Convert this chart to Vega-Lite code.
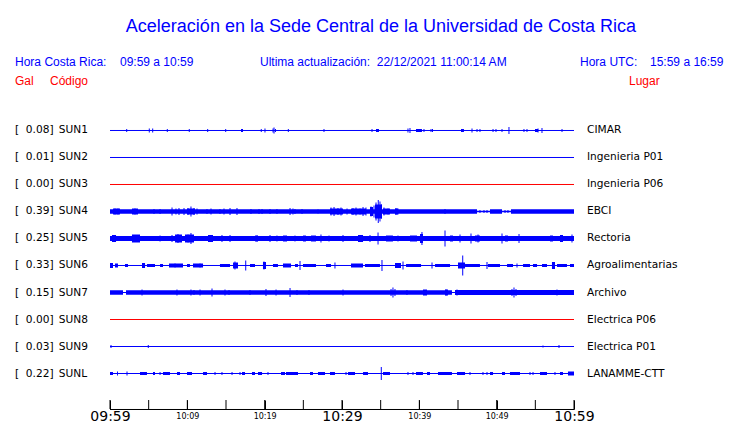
{
  "$schema": "https://vega.github.io/schema/vega-lite/v6.json",
  "width": 464,
  "height": 409,
  "autosize": {"type": "none"},
  "padding": {"left": 110, "right": 166, "top": 0, "bottom": 14},
  "background": "white",
  "config": {"view": {"stroke": null}, "axis": {"grid": false}},
  "datasets": {
    "estaciones": [
      {"codigo": "SUN1", "gal": 0.08, "lugar": "CIMAR", "orden": 1},
      {"codigo": "SUN2", "gal": 0.01, "lugar": "Ingenieria P01", "orden": 2},
      {"codigo": "SUN3", "gal": 0.00, "lugar": "Ingenieria P06", "orden": 3},
      {"codigo": "SUN4", "gal": 0.39, "lugar": "EBCI", "orden": 4},
      {"codigo": "SUN5", "gal": 0.25, "lugar": "Rectoria", "orden": 5},
      {"codigo": "SUN6", "gal": 0.33, "lugar": "Agroalimentarias", "orden": 6},
      {"codigo": "SUN7", "gal": 0.15, "lugar": "Archivo", "orden": 7},
      {"codigo": "SUN8", "gal": 0.00, "lugar": "Electrica P06", "orden": 8},
      {"codigo": "SUN9", "gal": 0.03, "lugar": "Electrica P01", "orden": 9},
      {"codigo": "SUNL", "gal": 0.22, "lugar": "LANAMME-CTT", "orden": 10}
    ],
    "marcas": [
      {"minuto": 0}, {"minuto": 5}, {"minuto": 10}, {"minuto": 15}, {"minuto": 20}, {"minuto": 25}, {"minuto": 30},
      {"minuto": 35}, {"minuto": 40}, {"minuto": 45}, {"minuto": 50}, {"minuto": 55}, {"minuto": 60}
    ],
    "bandas": [
      {"s": "SUN1", "t0": 16.94, "t1": 17.20, "a": 3},
      {"s": "SUN1", "t0": 34.40, "t1": 34.78, "a": 3},
      {"s": "SUN1", "t0": 39.57, "t1": 40.34, "a": 3},
      {"s": "SUN1", "t0": 45.39, "t1": 45.77, "a": 3},
      {"s": "SUN1", "t0": 54.96, "t1": 55.35, "a": 3},
      {"s": "SUN4", "t0": 0, "t1": 47.46, "a": 4.5},
      {"s": "SUN4", "t0": 47.46, "t1": 49.14, "a": 1.5},
      {"s": "SUN4", "t0": 49.14, "t1": 50.69, "a": 4.5},
      {"s": "SUN4", "t0": 50.69, "t1": 51.85, "a": 1.5},
      {"s": "SUN4", "t0": 51.85, "t1": 60, "a": 4.5},
      {"s": "SUN4", "t0": 0.39, "t1": 1.29, "a": 6},
      {"s": "SUN4", "t0": 2.84, "t1": 3.62, "a": 6},
      {"s": "SUN4", "t0": 9.96, "t1": 10.99, "a": 6},
      {"s": "SUN4", "t0": 28.45, "t1": 30.13, "a": 6},
      {"s": "SUN4", "t0": 31.16, "t1": 33.10, "a": 6},
      {"s": "SUN4", "t0": 33.62, "t1": 34.01, "a": 9},
      {"s": "SUN4", "t0": 34.27, "t1": 35.17, "a": 14},
      {"s": "SUN4", "t0": 35.30, "t1": 36.21, "a": 6},
      {"s": "SUN4", "t0": 36.85, "t1": 37.24, "a": 6},
      {"s": "SUN5", "t0": 0, "t1": 60, "a": 5},
      {"s": "SUN5", "t0": 0.26, "t1": 0.78, "a": 7},
      {"s": "SUN5", "t0": 2.84, "t1": 3.88, "a": 8},
      {"s": "SUN5", "t0": 8.41, "t1": 9.31, "a": 8},
      {"s": "SUN5", "t0": 9.70, "t1": 10.86, "a": 8},
      {"s": "SUN5", "t0": 12.67, "t1": 13.32, "a": 7},
      {"s": "SUN5", "t0": 18.75, "t1": 19.14, "a": 6},
      {"s": "SUN5", "t0": 22.37, "t1": 22.89, "a": 6},
      {"s": "SUN5", "t0": 24.96, "t1": 25.34, "a": 6},
      {"s": "SUN5", "t0": 25.99, "t1": 26.64, "a": 6},
      {"s": "SUN5", "t0": 32.07, "t1": 32.72, "a": 7},
      {"s": "SUN5", "t0": 35.69, "t1": 36.59, "a": 6},
      {"s": "SUN5", "t0": 38.79, "t1": 39.70, "a": 6},
      {"s": "SUN5", "t0": 40.09, "t1": 40.47, "a": 9},
      {"s": "SUN5", "t0": 43.97, "t1": 44.35, "a": 6},
      {"s": "SUN5", "t0": 47.20, "t1": 47.84, "a": 6},
      {"s": "SUN5", "t0": 51.08, "t1": 51.46, "a": 6},
      {"s": "SUN5", "t0": 56.90, "t1": 57.28, "a": 6},
      {"s": "SUN5", "t0": 58.19, "t1": 58.58, "a": 7},
      {"s": "SUN6", "t0": 0, "t1": 0.39, "a": 5},
      {"s": "SUN6", "t0": 0.65, "t1": 1.03, "a": 4},
      {"s": "SUN6", "t0": 1.94, "t1": 2.33, "a": 3},
      {"s": "SUN6", "t0": 4.14, "t1": 4.53, "a": 5},
      {"s": "SUN6", "t0": 4.78, "t1": 5.82, "a": 3},
      {"s": "SUN6", "t0": 6.47, "t1": 6.85, "a": 3},
      {"s": "SUN6", "t0": 7.63, "t1": 9.44, "a": 4},
      {"s": "SUN6", "t0": 9.96, "t1": 10.34, "a": 3},
      {"s": "SUN6", "t0": 10.73, "t1": 12.03, "a": 4},
      {"s": "SUN6", "t0": 14.22, "t1": 15.52, "a": 3},
      {"s": "SUN6", "t0": 15.91, "t1": 16.55, "a": 6},
      {"s": "SUN6", "t0": 18.10, "t1": 18.75, "a": 3},
      {"s": "SUN6", "t0": 19.78, "t1": 20.17, "a": 7},
      {"s": "SUN6", "t0": 21.08, "t1": 21.72, "a": 3},
      {"s": "SUN6", "t0": 22.37, "t1": 23.41, "a": 4},
      {"s": "SUN6", "t0": 23.92, "t1": 24.31, "a": 3},
      {"s": "SUN6", "t0": 24.96, "t1": 26.64, "a": 3},
      {"s": "SUN6", "t0": 27.93, "t1": 28.58, "a": 3},
      {"s": "SUN6", "t0": 31.16, "t1": 32.72, "a": 4},
      {"s": "SUN6", "t0": 32.97, "t1": 34.91, "a": 3},
      {"s": "SUN6", "t0": 36.85, "t1": 37.63, "a": 5},
      {"s": "SUN6", "t0": 38.28, "t1": 40.22, "a": 3},
      {"s": "SUN6", "t0": 42.03, "t1": 43.97, "a": 3},
      {"s": "SUN6", "t0": 45.00, "t1": 45.91, "a": 6},
      {"s": "SUN6", "t0": 45.91, "t1": 47.84, "a": 3},
      {"s": "SUN6", "t0": 48.88, "t1": 50.43, "a": 3},
      {"s": "SUN6", "t0": 51.34, "t1": 52.11, "a": 3},
      {"s": "SUN6", "t0": 53.41, "t1": 54.31, "a": 3},
      {"s": "SUN6", "t0": 54.70, "t1": 55.22, "a": 3},
      {"s": "SUN6", "t0": 55.86, "t1": 56.51, "a": 3},
      {"s": "SUN6", "t0": 57.15, "t1": 57.54, "a": 7},
      {"s": "SUN6", "t0": 57.80, "t1": 59.09, "a": 3},
      {"s": "SUN6", "t0": 59.48, "t1": 60, "a": 3},
      {"s": "SUN7", "t0": 0, "t1": 1.68, "a": 4.5},
      {"s": "SUN7", "t0": 2.07, "t1": 44.22, "a": 4.5},
      {"s": "SUN7", "t0": 44.61, "t1": 60, "a": 5},
      {"s": "SUN7", "t0": 40.47, "t1": 40.99, "a": 6},
      {"s": "SUN7", "t0": 43.32, "t1": 43.71, "a": 6},
      {"s": "SUNL", "t0": 0, "t1": 0.39, "a": 3},
      {"s": "SUNL", "t0": 0.91, "t1": 1.03, "a": 4},
      {"s": "SUNL", "t0": 3.88, "t1": 4.78, "a": 3},
      {"s": "SUNL", "t0": 5.56, "t1": 5.82, "a": 3},
      {"s": "SUNL", "t0": 6.85, "t1": 7.76, "a": 3},
      {"s": "SUNL", "t0": 8.66, "t1": 9.05, "a": 3},
      {"s": "SUNL", "t0": 9.96, "t1": 10.60, "a": 3},
      {"s": "SUNL", "t0": 12.03, "t1": 12.54, "a": 3},
      {"s": "SUNL", "t0": 17.07, "t1": 17.46, "a": 3},
      {"s": "SUNL", "t0": 18.36, "t1": 18.75, "a": 3},
      {"s": "SUNL", "t0": 19.14, "t1": 19.66, "a": 3},
      {"s": "SUNL", "t0": 22.11, "t1": 22.63, "a": 3},
      {"s": "SUNL", "t0": 22.76, "t1": 24.31, "a": 3},
      {"s": "SUNL", "t0": 25.86, "t1": 26.25, "a": 3},
      {"s": "SUNL", "t0": 26.90, "t1": 27.80, "a": 3},
      {"s": "SUNL", "t0": 28.45, "t1": 29.09, "a": 3},
      {"s": "SUNL", "t0": 30.78, "t1": 31.68, "a": 3},
      {"s": "SUNL", "t0": 32.72, "t1": 33.36, "a": 3},
      {"s": "SUNL", "t0": 35.30, "t1": 36.21, "a": 3},
      {"s": "SUNL", "t0": 39.57, "t1": 40.47, "a": 3},
      {"s": "SUNL", "t0": 40.99, "t1": 41.38, "a": 3},
      {"s": "SUNL", "t0": 42.41, "t1": 44.22, "a": 3},
      {"s": "SUNL", "t0": 44.87, "t1": 45.91, "a": 3},
      {"s": "SUNL", "t0": 49.14, "t1": 49.53, "a": 3},
      {"s": "SUNL", "t0": 50.69, "t1": 51.08, "a": 3},
      {"s": "SUNL", "t0": 51.72, "t1": 53.02, "a": 3},
      {"s": "SUNL", "t0": 55.60, "t1": 56.51, "a": 3},
      {"s": "SUNL", "t0": 58.19, "t1": 58.58, "a": 3},
      {"s": "SUNL", "t0": 59.22, "t1": 60, "a": 4}
    ],
    "picos": [
      {"s": "SUN1", "t": 2.16, "a": 3}, {"s": "SUN1", "t": 5.08, "a": 4}, {"s": "SUN1", "t": 5.52, "a": 4},
      {"s": "SUN1", "t": 7.41, "a": 3}, {"s": "SUN1", "t": 10.25, "a": 3}, {"s": "SUN1", "t": 12.63, "a": 3},
      {"s": "SUN1", "t": 14.96, "a": 3}, {"s": "SUN1", "t": 19.56, "a": 3}, {"s": "SUN1", "t": 20.04, "a": 4},
      {"s": "SUN1", "t": 21.08, "a": 4}, {"s": "SUN1", "t": 21.21, "a": 6}, {"s": "SUN1", "t": 21.40, "a": 3},
      {"s": "SUN1", "t": 23.06, "a": 3}, {"s": "SUN1", "t": 27.67, "a": 3}, {"s": "SUN1", "t": 33.88, "a": 3},
      {"s": "SUN1", "t": 38.53, "a": 4}, {"s": "SUN1", "t": 38.79, "a": 5}, {"s": "SUN1", "t": 40.60, "a": 3},
      {"s": "SUN1", "t": 41.51, "a": 3}, {"s": "SUN1", "t": 41.70, "a": 3}, {"s": "SUN1", "t": 46.81, "a": 4},
      {"s": "SUN1", "t": 47.46, "a": 3}, {"s": "SUN1", "t": 47.84, "a": 3}, {"s": "SUN1", "t": 49.53, "a": 3},
      {"s": "SUN1", "t": 49.91, "a": 3}, {"s": "SUN1", "t": 50.69, "a": 3}, {"s": "SUN1", "t": 51.59, "a": 7},
      {"s": "SUN1", "t": 53.53, "a": 3}, {"s": "SUN1", "t": 53.92, "a": 3}, {"s": "SUN1", "t": 55.35, "a": 4},
      {"s": "SUN1", "t": 55.86, "a": 5}, {"s": "SUN1", "t": 58.45, "a": 3},
      {"s": "SUN4", "t": 0.65, "a": 6}, {"s": "SUN4", "t": 1.03, "a": 6}, {"s": "SUN4", "t": 3.23, "a": 6},
      {"s": "SUN4", "t": 5.69, "a": 5}, {"s": "SUN4", "t": 6.47, "a": 5}, {"s": "SUN4", "t": 8.02, "a": 8},
      {"s": "SUN4", "t": 8.53, "a": 6}, {"s": "SUN4", "t": 8.92, "a": 7}, {"s": "SUN4", "t": 9.57, "a": 7},
      {"s": "SUN4", "t": 10.09, "a": 7}, {"s": "SUN4", "t": 10.47, "a": 10}, {"s": "SUN4", "t": 10.86, "a": 7},
      {"s": "SUN4", "t": 11.25, "a": 6}, {"s": "SUN4", "t": 12.54, "a": 5}, {"s": "SUN4", "t": 13.06, "a": 6},
      {"s": "SUN4", "t": 14.22, "a": 5}, {"s": "SUN4", "t": 14.74, "a": 6}, {"s": "SUN4", "t": 15.52, "a": 7},
      {"s": "SUN4", "t": 16.42, "a": 7}, {"s": "SUN4", "t": 18.23, "a": 5}, {"s": "SUN4", "t": 19.27, "a": 5},
      {"s": "SUN4", "t": 19.66, "a": 5}, {"s": "SUN4", "t": 20.69, "a": 5}, {"s": "SUN4", "t": 21.59, "a": 5},
      {"s": "SUN4", "t": 23.28, "a": 7}, {"s": "SUN4", "t": 23.66, "a": 6}, {"s": "SUN4", "t": 23.92, "a": 5},
      {"s": "SUN4", "t": 24.83, "a": 5}, {"s": "SUN4", "t": 26.90, "a": 4}, {"s": "SUN4", "t": 28.58, "a": 8},
      {"s": "SUN4", "t": 28.97, "a": 9}, {"s": "SUN4", "t": 29.48, "a": 7}, {"s": "SUN4", "t": 29.87, "a": 8},
      {"s": "SUN4", "t": 30.65, "a": 6}, {"s": "SUN4", "t": 31.42, "a": 7}, {"s": "SUN4", "t": 31.81, "a": 8},
      {"s": "SUN4", "t": 32.33, "a": 6}, {"s": "SUN4", "t": 32.72, "a": 9}, {"s": "SUN4", "t": 33.10, "a": 8},
      {"s": "SUN4", "t": 33.75, "a": 10}, {"s": "SUN4", "t": 34.14, "a": 12}, {"s": "SUN4", "t": 34.40, "a": 18},
      {"s": "SUN4", "t": 34.69, "a": 23}, {"s": "SUN4", "t": 34.91, "a": 20}, {"s": "SUN4", "t": 35.11, "a": 14},
      {"s": "SUN4", "t": 35.43, "a": 8}, {"s": "SUN4", "t": 35.95, "a": 6}, {"s": "SUN4", "t": 36.98, "a": 7},
      {"s": "SUN4", "t": 37.24, "a": 6}, {"s": "SUN4", "t": 43.32, "a": 5}, {"s": "SUN4", "t": 47.84, "a": 3},
      {"s": "SUN4", "t": 48.36, "a": 3}, {"s": "SUN4", "t": 48.75, "a": 3}, {"s": "SUN4", "t": 51.08, "a": 3},
      {"s": "SUN4", "t": 51.46, "a": 3},
      {"s": "SUN5", "t": 6.47, "a": 6}, {"s": "SUN5", "t": 8.02, "a": 7}, {"s": "SUN5", "t": 8.79, "a": 9},
      {"s": "SUN5", "t": 10.09, "a": 8}, {"s": "SUN5", "t": 10.47, "a": 11}, {"s": "SUN5", "t": 14.48, "a": 7},
      {"s": "SUN5", "t": 15.52, "a": 7}, {"s": "SUN5", "t": 19.01, "a": 6}, {"s": "SUN5", "t": 20.69, "a": 7},
      {"s": "SUN5", "t": 21.59, "a": 6}, {"s": "SUN5", "t": 23.92, "a": 6}, {"s": "SUN5", "t": 27.28, "a": 8},
      {"s": "SUN5", "t": 28.32, "a": 6}, {"s": "SUN5", "t": 30.13, "a": 7}, {"s": "SUN5", "t": 33.62, "a": 7},
      {"s": "SUN5", "t": 34.66, "a": 12}, {"s": "SUN5", "t": 37.24, "a": 6}, {"s": "SUN5", "t": 40.34, "a": 13},
      {"s": "SUN5", "t": 43.32, "a": 16}, {"s": "SUN5", "t": 45.26, "a": 8}, {"s": "SUN5", "t": 46.68, "a": 10},
      {"s": "SUN5", "t": 47.59, "a": 8}, {"s": "SUN5", "t": 50.69, "a": 10}, {"s": "SUN5", "t": 52.89, "a": 9},
      {"s": "SUN5", "t": 59.74, "a": 8},
      {"s": "SUN6", "t": 8.41, "a": 4}, {"s": "SUN6", "t": 11.64, "a": 4}, {"s": "SUN6", "t": 16.16, "a": 8},
      {"s": "SUN6", "t": 17.55, "a": 10}, {"s": "SUN6", "t": 19.91, "a": 8}, {"s": "SUN6", "t": 24.57, "a": 9},
      {"s": "SUN6", "t": 29.09, "a": 6}, {"s": "SUN6", "t": 35.17, "a": 11}, {"s": "SUN6", "t": 37.89, "a": 8},
      {"s": "SUN6", "t": 41.64, "a": 6}, {"s": "SUN6", "t": 45.61, "a": 20}, {"s": "SUN6", "t": 48.75, "a": 7},
      {"s": "SUN6", "t": 52.63, "a": 4},
      {"s": "SUN7", "t": 4.14, "a": 6}, {"s": "SUN7", "t": 8.66, "a": 6}, {"s": "SUN7", "t": 10.47, "a": 6},
      {"s": "SUN7", "t": 10.86, "a": 5}, {"s": "SUN7", "t": 11.64, "a": 6}, {"s": "SUN7", "t": 13.19, "a": 8},
      {"s": "SUN7", "t": 14.87, "a": 6}, {"s": "SUN7", "t": 15.39, "a": 5}, {"s": "SUN7", "t": 18.10, "a": 5},
      {"s": "SUN7", "t": 20.17, "a": 7}, {"s": "SUN7", "t": 21.47, "a": 6}, {"s": "SUN7", "t": 23.28, "a": 9},
      {"s": "SUN7", "t": 24.18, "a": 5}, {"s": "SUN7", "t": 25.73, "a": 5}, {"s": "SUN7", "t": 30.13, "a": 6},
      {"s": "SUN7", "t": 36.34, "a": 7}, {"s": "SUN7", "t": 36.59, "a": 10}, {"s": "SUN7", "t": 36.85, "a": 7},
      {"s": "SUN7", "t": 38.40, "a": 5}, {"s": "SUN7", "t": 40.73, "a": 5}, {"s": "SUN7", "t": 43.45, "a": 6},
      {"s": "SUN7", "t": 44.87, "a": 6}, {"s": "SUN7", "t": 48.23, "a": 5}, {"s": "SUN7", "t": 51.98, "a": 7},
      {"s": "SUN7", "t": 52.24, "a": 10}, {"s": "SUN7", "t": 52.50, "a": 7}, {"s": "SUN7", "t": 55.99, "a": 5},
      {"s": "SUN7", "t": 57.80, "a": 6},
      {"s": "SUN9", "t": 0.13, "a": 3}, {"s": "SUN9", "t": 4.95, "a": 3}, {"s": "SUN9", "t": 55.99, "a": 2},
      {"s": "SUN9", "t": 58.06, "a": 3},
      {"s": "SUNL", "t": 2.20, "a": 4}, {"s": "SUNL", "t": 6.47, "a": 3}, {"s": "SUNL", "t": 13.58, "a": 3},
      {"s": "SUNL", "t": 14.48, "a": 3}, {"s": "SUNL", "t": 15.78, "a": 3}, {"s": "SUNL", "t": 16.81, "a": 3},
      {"s": "SUNL", "t": 20.43, "a": 3}, {"s": "SUNL", "t": 30.52, "a": 3}, {"s": "SUNL", "t": 35.08, "a": 13},
      {"s": "SUNL", "t": 38.53, "a": 3}, {"s": "SUNL", "t": 39.18, "a": 3}, {"s": "SUNL", "t": 46.55, "a": 3},
      {"s": "SUNL", "t": 48.23, "a": 3}, {"s": "SUNL", "t": 48.75, "a": 3}, {"s": "SUNL", "t": 54.31, "a": 3},
      {"s": "SUNL", "t": 54.70, "a": 3}, {"s": "SUNL", "t": 57.54, "a": 3}
    ]
  },
  "layer": [
    {
      "data": {"name": "estaciones"},
      "mark": {"type": "rule", "strokeWidth": 1},
      "encoding": {
        "x": {"datum": 0, "type": "quantitative", "title": null,
          "scale": {"domain": [0, 60], "nice": false, "zero": false}},
        "x2": {"datum": 60},
        "y": {"field": "orden", "type": "quantitative", "title": null, "axis": null,
          "scale": {"domain": [-3.8333, 11.3148], "reverse": true, "nice": false, "zero": false}},
        "color": {"condition": {"test": "datum.gal == 0", "value": "#ff0000"}, "value": "#0000ff"}
      }
    },
    {
      "data": {"values": [{"eje": "tiempo"}]},
      "mark": {"type": "rule", "strokeWidth": 1, "color": "#000000"},
      "encoding": {
        "x": {"datum": 0, "type": "quantitative", "title": null},
        "x2": {"datum": 60},
        "y": {"datum": 11.3333, "type": "quantitative", "title": null, "axis": null}
      }
    },
    {
      "data": {"name": "marcas"},
      "mark": {"type": "tick", "orient": "vertical", "thickness": 1, "size": 9, "color": "#000000", "opacity": 1},
      "encoding": {
        "x": {"field": "minuto", "type": "quantitative", "title": null},
        "y": {"datum": 11.1481, "type": "quantitative", "title": null, "axis": null}
      }
    },
    {
      "data": {"name": "bandas"},
      "transform": [{"lookup": "s", "from": {"data": {"name": "estaciones"}, "key": "codigo", "fields": ["orden"]}}],
      "mark": {"type": "rule", "color": "#0000ff"},
      "encoding": {
        "x": {"field": "t0", "type": "quantitative", "title": null},
        "x2": {"field": "t1"},
        "y": {"field": "orden", "type": "quantitative", "title": null, "axis": null},
        "strokeWidth": {"field": "a", "type": "quantitative", "legend": null,
          "scale": {"type": "linear", "domain": [0, 10], "range": [0, 10], "zero": true}}
      }
    },
    {
      "data": {"name": "picos"},
      "transform": [{"lookup": "s", "from": {"data": {"name": "estaciones"}, "key": "codigo", "fields": ["orden"]}}],
      "mark": {"type": "tick", "orient": "vertical", "thickness": 1, "color": "#0000ff", "opacity": 1},
      "encoding": {
        "x": {"field": "t", "type": "quantitative", "title": null,
          "axis": {
            "values": [0, 5, 10, 15, 20, 25, 30, 35, 40, 45, 50, 55, 60],
            "labelExpr": "datum.value % 10 == 0 ? ['09:59','10:09','10:19','10:29','10:39','10:49','10:59'][datum.value / 10] : ''",
            "domain": true, "ticks": true,
            "tickSize": -9, "tickColor": "#000000", "tickWidth": 1, "tickOpacity": 1,
            "domainColor": "#000000", "domainWidth": 1, "domainOpacity": 1,
            "labelColor": "#000000", "labelFont": "DejaVu Sans",
            "labelFontSize": {"condition": {"test": "datum.value % 30 == 0", "value": 14}, "value": 8},
            "labelBaseline": "middle", "labelPadding": 16,
            "labelOverlap": false, "labelFlush": false, "labelBound": false,
            "grid": false, "title": null
          }
        },
        "y": {"field": "orden", "type": "quantitative", "title": null, "axis": null},
        "size": {"field": "a", "type": "quantitative", "legend": null,
          "scale": {"type": "linear", "domain": [0, 30], "range": [0, 30], "zero": true}}
      }
    },
    {
      "data": {"name": "estaciones"},
      "mark": {"type": "text", "align": "left", "baseline": "middle", "font": "DejaVu Sans", "fontSize": 10.6, "color": "#000000"},
      "encoding": {
        "x": {"datum": -12.28, "type": "quantitative"},
        "y": {"field": "orden", "type": "quantitative", "axis": null},
        "text": {"value": "["}
      }
    },
    {
      "data": {"name": "estaciones"},
      "mark": {"type": "text", "align": "right", "baseline": "middle", "font": "DejaVu Sans", "fontSize": 10.6, "color": "#000000"},
      "encoding": {
        "x": {"datum": -7.83, "type": "quantitative"},
        "y": {"field": "orden", "type": "quantitative", "axis": null},
        "text": {"field": "gal", "type": "quantitative", "format": ".2f"}
      }
    },
    {
      "data": {"name": "estaciones"},
      "mark": {"type": "text", "align": "left", "baseline": "middle", "font": "DejaVu Sans", "fontSize": 10.6, "color": "#000000"},
      "encoding": {
        "x": {"datum": -7.83, "type": "quantitative"},
        "y": {"field": "orden", "type": "quantitative", "axis": null},
        "text": {"value": "]"}
      }
    },
    {
      "data": {"name": "estaciones"},
      "mark": {"type": "text", "align": "left", "baseline": "middle", "font": "DejaVu Sans", "fontSize": 10.6, "color": "#000000"},
      "encoding": {
        "x": {"datum": -6.63, "type": "quantitative"},
        "y": {"field": "orden", "type": "quantitative", "axis": null},
        "text": {"field": "codigo", "type": "nominal"}
      }
    },
    {
      "data": {"name": "estaciones"},
      "mark": {"type": "text", "align": "left", "baseline": "middle", "font": "DejaVu Sans", "fontSize": 10.6, "color": "#000000"},
      "encoding": {
        "x": {"datum": 61.68, "type": "quantitative"},
        "y": {"field": "orden", "type": "quantitative", "axis": null},
        "text": {"field": "lugar", "type": "nominal"}
      }
    },
    {
      "data": {"values": [{"texto": "Aceleración en la Sede Central de la Universidad de Costa Rica"}]},
      "mark": {"type": "text", "align": "center", "baseline": "middle", "font": "Liberation Sans", "fontSize": 18, "color": "#0000ff"},
      "encoding": {
        "x": {"datum": 35.04, "type": "quantitative"},
        "y": {"datum": -2.85, "type": "quantitative"},
        "text": {"field": "texto", "type": "nominal"}
      }
    },
    {
      "data": {"values": [{"texto": "Hora Costa Rica:"}]},
      "mark": {"type": "text", "align": "left", "baseline": "middle", "font": "Liberation Sans", "fontSize": 12, "color": "#0000ff"},
      "encoding": {
        "x": {"datum": -12.28, "type": "quantitative"},
        "y": {"datum": -1.555, "type": "quantitative"},
        "text": {"field": "texto", "type": "nominal"}
      }
    },
    {
      "data": {"values": [{"texto": "09:59 a 10:59"}]},
      "mark": {"type": "text", "align": "left", "baseline": "middle", "font": "Liberation Sans", "fontSize": 12, "color": "#0000ff"},
      "encoding": {
        "x": {"datum": 1.29, "type": "quantitative"},
        "y": {"datum": -1.555, "type": "quantitative"},
        "text": {"field": "texto", "type": "nominal"}
      }
    },
    {
      "data": {"values": [{"texto": "Ultima actualización:\u00a0\u00a022/12/2021 11:00:14 AM"}]},
      "mark": {"type": "text", "align": "left", "baseline": "middle", "font": "Liberation Sans", "fontSize": 12, "color": "#0000ff"},
      "encoding": {
        "x": {"datum": 19.40, "type": "quantitative"},
        "y": {"datum": -1.555, "type": "quantitative"},
        "text": {"field": "texto", "type": "nominal"}
      }
    },
    {
      "data": {"values": [{"texto": "Hora UTC:"}]},
      "mark": {"type": "text", "align": "left", "baseline": "middle", "font": "Liberation Sans", "fontSize": 12, "color": "#0000ff"},
      "encoding": {
        "x": {"datum": 60.78, "type": "quantitative"},
        "y": {"datum": -1.555, "type": "quantitative"},
        "text": {"field": "texto", "type": "nominal"}
      }
    },
    {
      "data": {"values": [{"texto": "15:59 a 16:59"}]},
      "mark": {"type": "text", "align": "left", "baseline": "middle", "font": "Liberation Sans", "fontSize": 12, "color": "#0000ff"},
      "encoding": {
        "x": {"datum": 69.83, "type": "quantitative"},
        "y": {"datum": -1.555, "type": "quantitative"},
        "text": {"field": "texto", "type": "nominal"}
      }
    },
    {
      "data": {"values": [{"texto": "Gal"}]},
      "mark": {"type": "text", "align": "left", "baseline": "middle", "font": "Liberation Sans", "fontSize": 12, "color": "#ff0000"},
      "encoding": {
        "x": {"datum": -12.28, "type": "quantitative"},
        "y": {"datum": -0.815, "type": "quantitative"},
        "text": {"field": "texto", "type": "nominal"}
      }
    },
    {
      "data": {"values": [{"texto": "Código"}]},
      "mark": {"type": "text", "align": "left", "baseline": "middle", "font": "Liberation Sans", "fontSize": 12, "color": "#ff0000"},
      "encoding": {
        "x": {"datum": -7.76, "type": "quantitative"},
        "y": {"datum": -0.815, "type": "quantitative"},
        "text": {"field": "texto", "type": "nominal"}
      }
    },
    {
      "data": {"values": [{"texto": "Lugar"}]},
      "mark": {"type": "text", "align": "left", "baseline": "middle", "font": "Liberation Sans", "fontSize": 12, "color": "#ff0000"},
      "encoding": {
        "x": {"datum": 67.11, "type": "quantitative"},
        "y": {"datum": -0.815, "type": "quantitative"},
        "text": {"field": "texto", "type": "nominal"}
      }
    }
  ]
}
